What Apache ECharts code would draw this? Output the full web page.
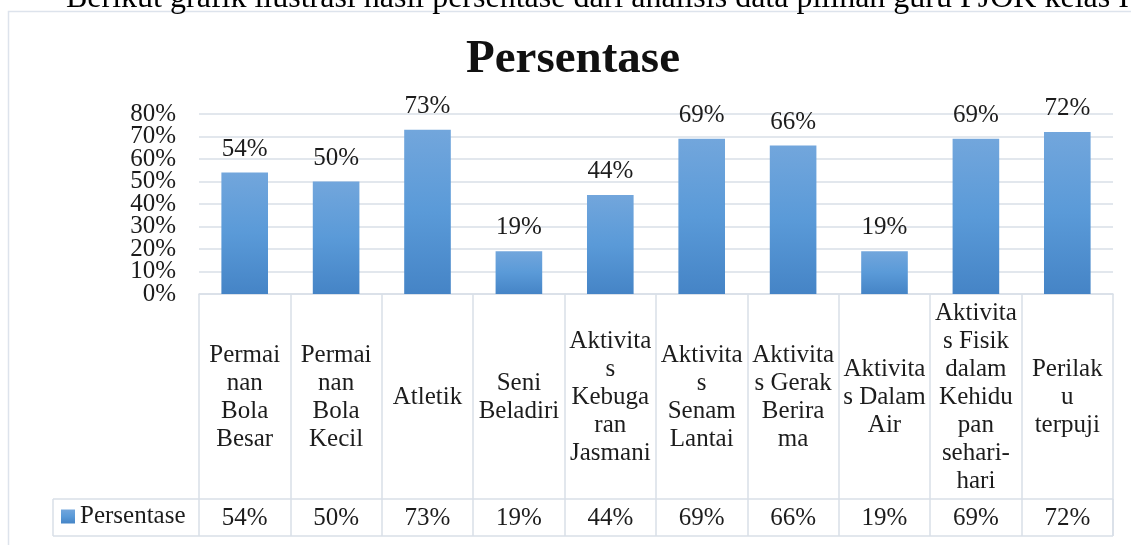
<!DOCTYPE html>
<html>
<head>
<meta charset="utf-8">
<script src="https://cdn.jsdelivr.net/npm/echarts@6/dist/echarts.min.js"></script>
<style>
  html, body { margin: 0; padding: 0; background: #fff; }
  #chart { width: 1131px; height: 545px; }
</style>
</head>
<body>
<div id="chart"></div>
<script>
  // data
  const categories = ['Permainan Bola Besar', 'Permainan Bola Kecil', 'Atletik', 'Seni Beladiri',
    'Aktivitas Kebugaran Jasmani', 'Aktivitas Senam Lantai', 'Aktivitas Gerak Berirama',
    'Aktivitas Dalam Air', 'Aktivitas Fisik dalam Kehidupan sehari-hari', 'Perilaku terpuji']
  // labels wrapped the way the data table breaks them
  const wrappedLabels = ['Permai\nnan\nBola\nBesar', 'Permai\nnan\nBola\nKecil', 'Atletik', 'Seni\nBeladiri',
    'Aktivita\ns\nKebuga\nran\nJasmani', 'Aktivita\ns\nSenam\nLantai', 'Aktivita\ns Gerak\nBerira\nma',
    'Aktivita\ns Dalam\nAir', 'Aktivita\ns Fisik\ndalam\nKehidu\npan\nsehari-\nhari', 'Perilak\nu\nterpuji']
  const values = [54, 50, 73, 19, 44, 69, 66, 19, 69, 72]
  const seriesName = 'Persentase'
  const yMin = 0
  const yMax = 80
  const yStep = 10

  const font = 'Liberation Serif'
  const textColor = '#1c1c1c'
  const lineColor = '#d9dfe7'
  const fontSize = 25

  const chart = echarts.init(document.getElementById('chart'), null, { renderer: 'canvas' })

  const barColor = new echarts.graphic.LinearGradient(0, 0, 0, 1, [
    { offset: 0, color: '#72a6dc' },
    { offset: 0.5, color: '#5a9ad8' },
    { offset: 1, color: '#4584c6' }
  ])

  // the tick labels sit closer than their own height, so they are split over
  // two overlaid axes (odd and even tens) to stop ECharts dropping any of them
  const yLabel = {
    margin: 23,
    hideOverlap: false,
    fontFamily: font,
    fontSize: fontSize,
    color: textColor
  }

  const option = {
    backgroundColor: '#fff',
    animation: false,
    textStyle: { fontFamily: font },
    title: [{
      text: 'Persentase',
      left: 466,
      top: 36,
      padding: 0,
      textStyle: { fontFamily: font, fontSize: 47, fontWeight: 'bold', color: '#111' }
    }, {
      text: 'Berikut grafik ilustrasi hasil persentase dari analisis data pilihan guru PJOK kelas IV',
      left: 66,
      top: -17,
      padding: 0,
      textStyle: { fontFamily: font, fontSize: 32, fontWeight: 'normal', color: '#000' }
    }],
    legend: {
      data: [seriesName],
      left: 61,
      top: 504,
      padding: 0,
      icon: 'rect',
      itemWidth: 14,
      itemHeight: 14,
      textStyle: { fontFamily: font, fontSize: fontSize, color: textColor }
    },
    graphic: [{
      type: 'rect',
      shape: { x: 8.5, y: 11.5, width: 1200, height: 600 },
      style: { fill: null, stroke: '#dde3ec', lineWidth: 1.5 },
      silent: true
    }],
    grid: [
      // plot area
      { left: 199, top: 114, width: 914, height: 180 },
      // data table, category + value rows
      { left: 199, top: 294, width: 914, height: 242 },
      // value row frame including the legend cell
      { left: 53, top: 499, width: 1060, height: 37 }
    ],
    xAxis: [{
      gridIndex: 0,
      type: 'category',
      data: categories,
      axisTick: { show: false },
      axisLine: { show: true, lineStyle: { color: lineColor, width: 1.5 } },
      axisLabel: {
        interval: 0,
        margin: 103,
        verticalAlign: 'middle',
        lineHeight: 28,
        fontFamily: font,
        fontSize: fontSize,
        color: textColor,
        formatter: function (v, i) { return wrappedLabels[i] }
      }
    }, {
      gridIndex: 1,
      type: 'category',
      data: categories,
      axisTick: { show: false },
      axisLine: { show: false },
      splitLine: { show: true, lineStyle: { color: lineColor, width: 1.5 } },
      axisLabel: {
        inside: true,
        interval: 0,
        margin: 18,
        verticalAlign: 'middle',
        fontFamily: font,
        fontSize: fontSize,
        color: textColor,
        formatter: function (v, i) { return values[i] + '%' }
      }
    }, {
      gridIndex: 2,
      type: 'value',
      min: 0,
      max: 1,
      interval: 1,
      axisLine: { show: false },
      axisTick: { show: false },
      axisLabel: { show: false },
      splitLine: { show: true, lineStyle: { color: lineColor, width: 1.5 } }
    }],
    yAxis: [{
      gridIndex: 0,
      type: 'value',
      position: 'left',
      min: yMin,
      max: yMax,
      interval: yStep,
      axisLine: { show: false },
      axisTick: { show: false },
      splitLine: { show: true, lineStyle: { color: lineColor, width: 1.5 } },
      axisLabel: Object.assign({}, yLabel, {
        showMinLabel: false,
        showMaxLabel: false,
        formatter: function (v) { return (v / yStep) % 2 === 1 ? v + '%' : '' }
      })
    }, {
      gridIndex: 1,
      type: 'value',
      show: false
    }, {
      gridIndex: 2,
      type: 'value',
      min: 0,
      max: 1,
      interval: 1,
      axisLine: { show: false },
      axisTick: { show: false },
      axisLabel: { show: false },
      splitLine: { show: true, lineStyle: { color: lineColor, width: 1.5 } }
    }, {
      gridIndex: 0,
      type: 'value',
      position: 'left',
      min: yMin,
      max: yMax,
      interval: yStep * 2,
      axisLine: { show: false },
      axisTick: { show: false },
      splitLine: { show: false },
      axisLabel: Object.assign({}, yLabel, {
        showMinLabel: true,
        showMaxLabel: true,
        formatter: '{value}%'
      })
    }],
    series: [{
      name: seriesName,
      type: 'bar',
      xAxisIndex: 0,
      yAxisIndex: 0,
      data: values,
      barWidth: '51%',
      itemStyle: { color: barColor },
      label: {
        show: true,
        position: 'top',
        distance: 11,
        fontFamily: font,
        fontSize: fontSize,
        color: textColor,
        formatter: '{c}%'
      }
    }]
  }

  chart.setOption(option)
  window.addEventListener('resize', () => {
    chart.resize()
  })
</script>
</body>
</html>
